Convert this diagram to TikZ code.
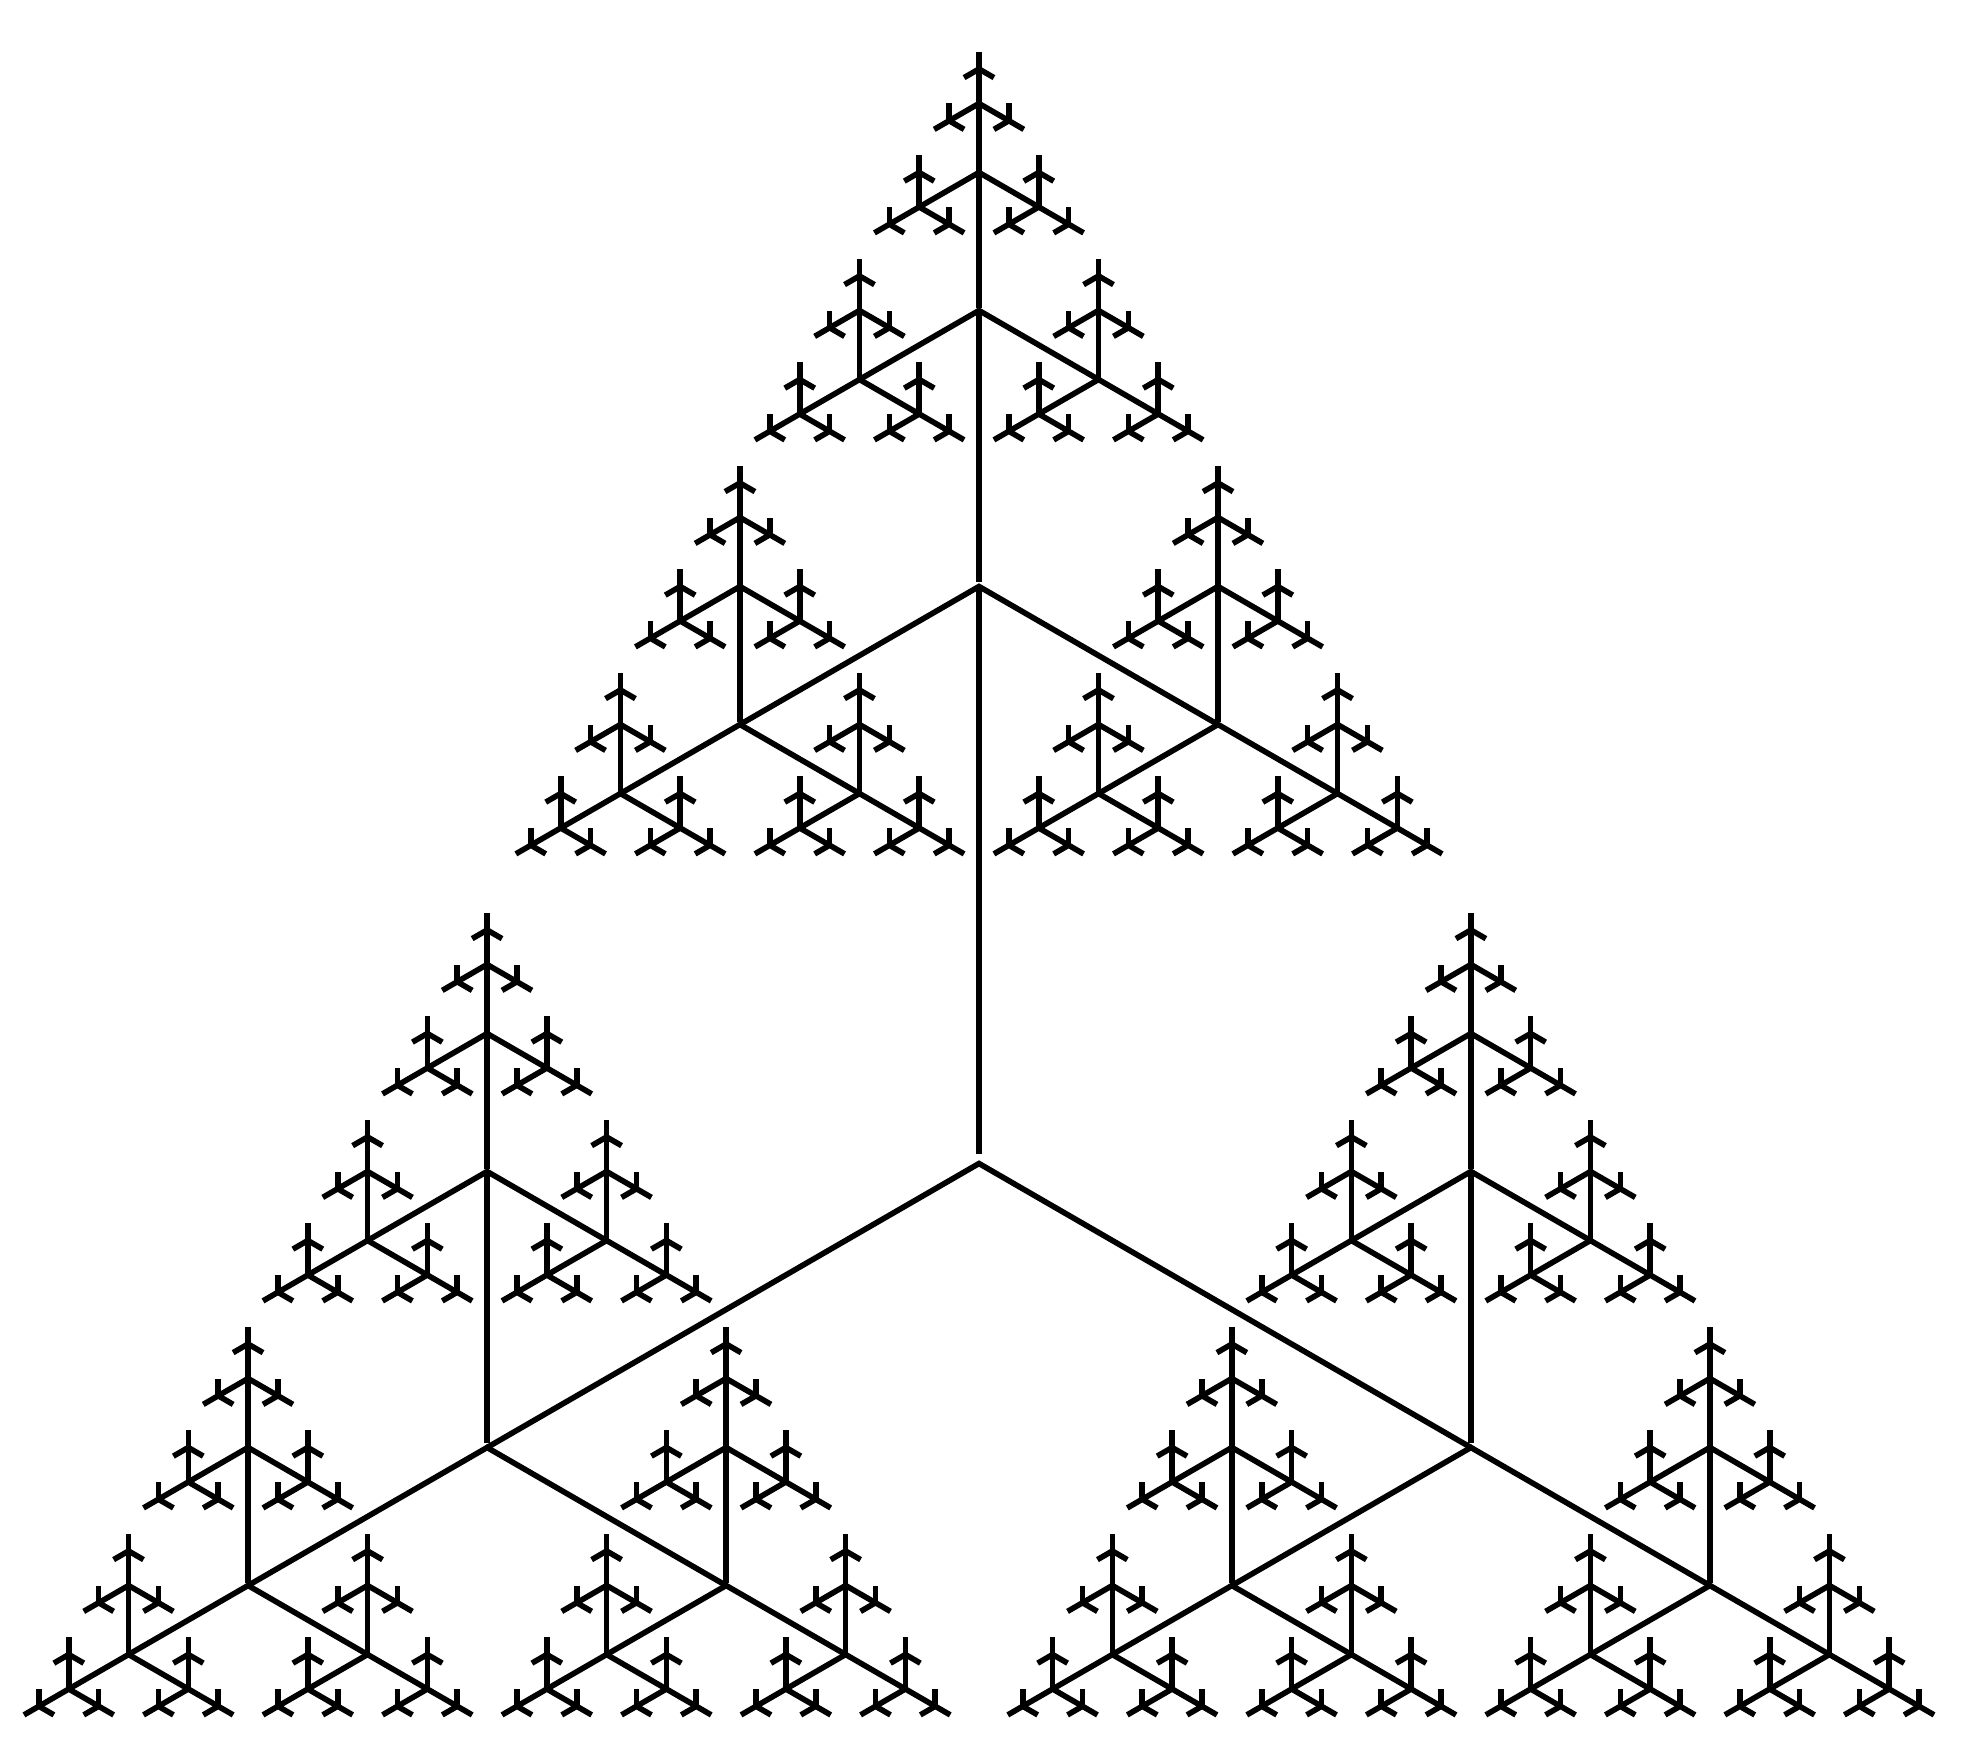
\documentclass[tikz,border=0pt]{standalone}
\tikzset{fr/.style={draw=black,line width=5.6pt,line join=miter}}
\newcommand\ytri[7]{% x, y, up length, diagonal length, gap, child length, level
  \ifnum#7>0\relax
  \begingroup
    \pgfmathsetmacro\yA{#2-#3}%
    \pgfmathsetmacro\yG{#2-#5}%
    \pgfmathsetmacro\xL{#1-0.8660254*#4}%
    \pgfmathsetmacro\xR{#1+0.8660254*#4}%
    \pgfmathsetmacro\yD{#2+0.5*#4}%
    \pgfmathsetmacro\Lc{#6}%
    \pgfmathsetmacro\Gc{0.015*#6}%
    \pgfmathsetmacro\Lh{0.5*#6}%
    \pgfmathtruncatemacro\nl{#7-1}%
    \draw[fr] (#1,\yG) -- (#1,\yA);
    \draw[fr] (\xL,\yD) -- (#1,#2) -- (\xR,\yD);
    \edef\next{\noexpand\ytri{#1}{\yA}{\Lc}{\Lc}{\Gc}{\Lh}{\nl}%
      \noexpand\ytri{\xL}{\yD}{\Lc}{\Lc}{\Gc}{\Lh}{\nl}%
      \noexpand\ytri{\xR}{\yD}{\Lc}{\Lc}{\Gc}{\Lh}{\nl}}%
    \next
  \endgroup
  \fi}
\begin{document}
\begin{tikzpicture}[x=1pt,y=-1pt]
\fill[white] (0,0) rectangle (1962,1758);
\useasboundingbox (0,0) rectangle (1962,1758);
\ytri{979}{1163.5}{577}{568}{10}{276}{6}
\end{tikzpicture}
\end{document}
